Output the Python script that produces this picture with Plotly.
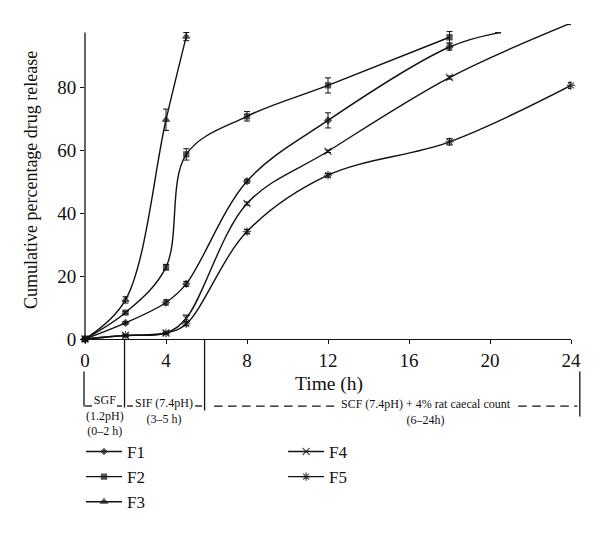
import plotly.graph_objects as go

# ---------------- data ----------------
names = ["F1", "F2", "F3", "F4", "F5"]
t_f1 = [0, 2, 4, 5, 8, 12, 18, 20.4]
v_f1 = [0, 5.1, 11.6, 17.5, 50.1, 69.4, 92.7, 97.2]
e_f1 = [0, 0.4, 0.8, 0.8, 0.6, 2.4, 1.0, 0]

t_f2 = [0, 2, 4, 5, 8, 12, 18]
v_f2 = [0, 8.4, 22.8, 58.6, 70.7, 80.5, 95.8]
e_f2 = [0, 0.4, 0.9, 1.8, 1.5, 2.4, 1.8]

t_f3 = [0, 2, 4, 5]
v_f3 = [0, 12.4, 69.6, 96.0]
e_f3 = [0, 1.0, 3.4, 1.3]

t_f4 = [0, 2, 4, 5, 8, 12, 18, 24]
v_f4 = [0, 1.1, 1.9, 6.6, 43.0, 59.6, 83.0, 100.3]
e_f4 = [0, 0.3, 0.3, 1.0, 0.5, 0.4, 0.5, 0.5]

t_f5 = [0, 2, 4, 5, 8, 12, 18, 24]
v_f5 = [0, 1.1, 1.9, 4.8, 34.1, 52.0, 62.6, 80.5]
e_f5 = [0, 0.3, 0.3, 0.6, 0.7, 0.6, 1.0, 1.0]

x_ticks = [0, 4, 8, 12, 16, 20, 24]
y_ticks = [0, 20, 40, 60, 80]

# ---------------- layout geometry (window pixels) ----------------
OFF = 8                      # default body margin of the html page
W, H = 600 - OFF, 537 - OFF  # figure size so that it fits the window
L, R = 85.0, 570.7           # plot area in window pixels
T, B = 23.5, 339.3
FONT = "Liberation Serif"
BLACK = "#111111"


def xp(px):
    return (px - L) / (R - L)


def yp(py):
    return (B - py) / (B - T)


fig = go.Figure()

series = [
    (names[0], t_f1, v_f1, e_f1, "diamond", 5, "legend"),
    (names[1], t_f2, v_f2, e_f2, "square", 5, "legend"),
    (names[2], t_f3, v_f3, e_f3, "triangle-up", 6, "legend"),
    (names[3], t_f4, v_f4, e_f4, "x-thin-open", 7, "legend2"),
    (names[4], t_f5, v_f5, e_f5, "asterisk-open", 7, "legend2"),
]

for name, tt, vv, ee, sym, ms, leg in series:
    sizes = [ms] * len(tt)
    if name == "F1":
        sizes[-1] = 0
    fig.add_trace(go.Scatter(
        x=tt, y=vv, name=name, mode="lines+markers",
        line=dict(color=BLACK, width=1.4, shape="spline", smoothing=1),
        marker=dict(symbol=sym, size=sizes, color=BLACK,
                    line=dict(color=BLACK, width=1.3)),
        error_y=dict(type="data", array=ee, visible=True, color=BLACK,
                     thickness=1, width=3),
        cliponaxis=False, legend=leg,
    ))

shapes = []


def seg(x0, y0, x1, y1, dash="solid", w=1.3):
    shapes.append(dict(type="line", xref="paper", yref="paper",
                       x0=xp(x0), y0=yp(y0), x1=xp(x1), y1=yp(y1),
                       line=dict(color=BLACK, width=w, dash=dash)))


# y axis line (stops short of top)
seg(85, 339.3, 85, 32)
# phase separators
seg(84, 372, 84, 407)
seg(124.5, 339.3, 124.5, 408)
seg(204.5, 339.3, 204.5, 411)
seg(579.5, 372, 579.5, 417)
# underline pieces
yl = 406.5
seg(85, yl, 92, yl)
seg(117, yl, 122, yl)
seg(127, yl, 133, yl)
seg(195, yl, 202, yl)
seg(214, yl, 334, yl, dash="8.5px,5.5px")
seg(518, yl, 577, yl, dash="8.5px,5.5px")

annotations = []


def txt(s, x, y, size, angle=0):
    annotations.append(dict(text=s, xref="paper", yref="paper", x=xp(x), y=yp(y),
                            xanchor="center", yanchor="middle", showarrow=False,
                            textangle=angle, borderpad=0,
                            font=dict(family=FONT, size=size, color=BLACK)))


txt("Time (h)", 329, 384, 19.5)
txt("Cumulative percentage drug release", 31, 180, 18, angle=-90)
txt("SGF<br>(1.2pH)<br>(0–2 h)", 105, 415.5, 12)
txt("SIF (7.4pH)<br>(3–5 h)", 164, 411, 12)
txt("SCF (7.4pH) + 4% rat caecal count<br>(6–24h)", 426, 412, 12)

legend_common = dict(xanchor="left", yanchor="top", orientation="v",
                     bgcolor="rgba(0,0,0,0)",
                     font=dict(family=FONT, size=17, color=BLACK),
                     tracegroupgap=0, itemwidth=36)

fig.update_layout(
    width=W, height=H,
    margin=dict(l=L - OFF, r=W - (R - OFF), t=T - OFF, b=H - (B - OFF),
                pad=0, autoexpand=False),
    paper_bgcolor="white", plot_bgcolor="white",
    font=dict(family=FONT, size=18, color=BLACK),
    shapes=shapes, annotations=annotations,
    showlegend=True,
    legend=dict(x=xp(81), y=yp(434.5), **legend_common),
    legend2=dict(x=xp(283), y=yp(434.5), **legend_common),
    xaxis=dict(range=[0, 24], tickvals=x_ticks, showgrid=False, zeroline=False,
               showline=True, linecolor=BLACK, linewidth=1.3,
               ticks="outside", ticklen=4, tickcolor=BLACK, tickwidth=1,
               tickfont=dict(family=FONT, size=19, color=BLACK)),
    yaxis=dict(range=[0, 100], tickvals=y_ticks, showgrid=False, zeroline=False,
               showline=False, ticks="outside", ticklen=4, tickcolor=BLACK,
               tickwidth=1, tickfont=dict(family=FONT, size=19, color=BLACK)),
)

fig.write_html("out.html")
